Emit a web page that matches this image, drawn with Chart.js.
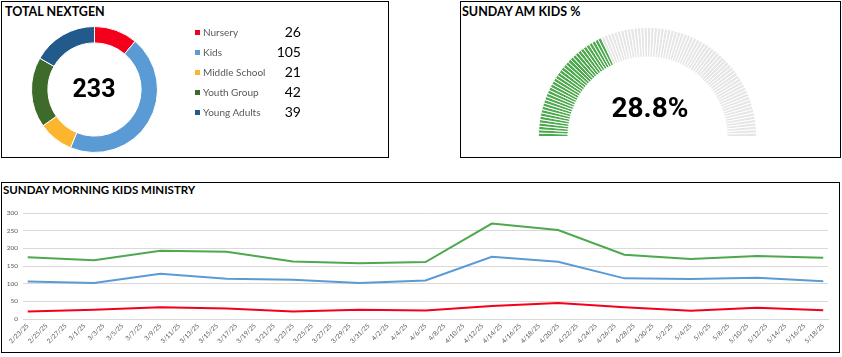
<!DOCTYPE html>
<html><head><meta charset="utf-8">
<script src="https://cdn.jsdelivr.net/npm/chart.js@4.4.1/dist/chart.umd.min.js"></script>
<style>
html,body{margin:0;padding:0;background:#fff;width:842px;height:357px;overflow:hidden;font-family:Lato,'Liberation Sans',sans-serif;}
.panel{position:absolute;box-sizing:border-box;border:1px solid #000;}
.t{position:absolute;white-space:nowrap;line-height:1;}
.title{font-weight:700;color:#000;}
.big{font-family:Roboto,'Liberation Sans',sans-serif;font-weight:700;color:#000;}
canvas{position:absolute;}
.sw{position:absolute;width:5px;height:5px;}
</style></head><body>
<div class="panel" style="left:1px;top:1px;width:388px;height:157px"></div>
<div class="panel" style="left:460px;top:1px;width:381px;height:157px"></div>
<div class="panel" style="left:1px;top:182px;width:839px;height:171px"></div>
<div class="t title" style="left:5px;top:6px;font-size:12.5px">TOTAL NEXTGEN</div>
<div class="t title" style="left:462px;top:6px;font-size:12.5px">SUNDAY AM KIDS %</div>
<div class="t title" style="left:3px;top:184px;font-size:11.5px">SUNDAY MORNING KIDS MINISTRY</div>
<canvas id="donut" width="127" height="127" style="left:31px;top:26px"></canvas>
<div id="donutCenter" class="t big" style="left:94px;top:88px;transform:translate(-50%,-50%);font-size:25px"></div>
<div id="legend"></div>
<canvas id="gauge" width="219" height="110" style="left:538px;top:27px"></canvas>
<div id="gaugeCenter" class="t big" style="left:650px;top:108px;transform:translate(-50%,-50%);font-size:28px"></div>
<canvas id="line" width="842" height="152" style="left:0px;top:200px"></canvas>
<script>
// ---- Data ----
const categories = ['Nursery', 'Kids', 'Middle School', 'Youth Group', 'Young Adults'];
const categoryTotals = [26, 105, 21, 42, 39];
const categoryColors = ['#f5001c', '#5b9bd5', '#fbb52e', '#3e6b2b', '#235a8c'];

const gaugeValue = 28.8;     // percent shown
const gaugeMax = 80;         // full scale of the gauge
const gaugeSegments = 100;

const weekDates = ['2/23/25','3/2/25','3/9/25','3/16/25','3/23/25','3/30/25','4/6/25','4/13/25','4/20/25','4/27/25','5/4/25','5/11/25','5/18/25'];
const seriesTotal   = [175, 166, 193, 190, 163, 158, 161, 270, 252, 182, 170, 178, 173];
const seriesKids    = [106, 102, 128, 114, 111, 102, 109, 176, 162, 115, 113, 117, 107];
const seriesNursery = [21, 26, 33, 30, 21, 26, 24, 37, 45, 33, 23, 32, 25];
const xTickLabels = ['2/23/25','2/25/25','2/27/25','3/1/25','3/3/25','3/5/25','3/7/25','3/9/25','3/11/25','3/13/25','3/15/25','3/17/25','3/19/25','3/21/25','3/23/25','3/25/25','3/27/25','3/29/25','3/31/25','4/2/25','4/4/25','4/6/25','4/8/25','4/10/25','4/12/25','4/14/25','4/16/25','4/18/25','4/20/25','4/22/25','4/24/25','4/26/25','4/28/25','4/30/25','5/2/25','5/4/25','5/6/25','5/8/25','5/10/25','5/12/25','5/14/25','5/16/25','5/18/25'];
const yTicks = [0, 50, 100, 150, 200, 250, 300];

// ---- Helpers ----
function dayNum(s){ const [m,d,y] = s.split('/').map(Number); return Date.UTC(2000+y, m-1, d)/86400000; }
const day0 = dayNum(xTickLabels[0]);
const toOffset = s => dayNum(s) - day0;
const tickMap = {}; xTickLabels.forEach(l => tickMap[toOffset(l)] = l);
const lastOffset = toOffset(xTickLabels[xTickLabels.length-1]);

// ---- Donut ----
new Chart(document.getElementById('donut'), {
  type: 'doughnut',
  data: { labels: categories, datasets: [{ data: categoryTotals, backgroundColor: categoryColors, borderColor: '#fff', borderWidth: 1 }] },
  options: { responsive: false, animation: false, cutout: '74%', plugins: { legend: { display: false }, tooltip: { enabled: false } } }
});
document.getElementById('donutCenter').textContent = categoryTotals.reduce((a,b)=>a+b,0);
const leg = document.getElementById('legend');
categories.forEach((c,i) => {
  const y = 32 + i*20;
  leg.insertAdjacentHTML('beforeend',
    `<div class="sw" style="left:195px;top:${y-2.5}px;background:${categoryColors[i]}"></div>` +
    `<div class="t" style="left:203px;top:${y}px;transform:translateY(-50%);font-size:10px;color:#595959">${c}</div>` +
    `<div class="t" style="right:${842-301}px;top:${y}px;transform:translateY(-50%);font-size:14px;color:#000">${categoryTotals[i]}</div>`);
});

// ---- Gauge ----
const filled = Math.round(gaugeValue / gaugeMax * gaugeSegments);
new Chart(document.getElementById('gauge'), {
  type: 'doughnut',
  data: { datasets: [{ data: new Array(gaugeSegments).fill(1),
    backgroundColor: Array.from({length: gaugeSegments}, (_, i) => i < filled ? '#4ea84e' : '#e6e6e6'),
    borderColor: '#fff', borderWidth: 1 }] },
  options: { responsive: false, animation: false, rotation: -90, circumference: 180, cutout: '73%',
    plugins: { legend: { display: false }, tooltip: { enabled: false } } }
});
document.getElementById('gaugeCenter').textContent = gaugeValue.toFixed(1) + '%';

// ---- Line ----
const mk = (vals) => weekDates.map((d,i) => ({ x: toOffset(d), y: vals[i] }));
new Chart(document.getElementById('line'), {
  type: 'line',
  data: { datasets: [
    { label: 'Total', data: mk(seriesTotal), borderColor: '#4ea84e', borderWidth: 2, pointRadius: 0, tension: 0 },
    { label: 'Kids', data: mk(seriesKids), borderColor: '#5b9bd5', borderWidth: 2, pointRadius: 0, tension: 0 },
    { label: 'Nursery', data: mk(seriesNursery), borderColor: '#f5001c', borderWidth: 2, pointRadius: 0, tension: 0 }
  ] },
  options: {
    responsive: false, animation: false,
    layout: { padding: { top: 13, right: 14, left: 0, bottom: 0 } },
    plugins: { legend: { display: false }, tooltip: { enabled: false } },
    scales: {
      x: { type: 'linear', min: -0.5, max: lastOffset + 0.5,
        afterBuildTicks: s => { s.ticks = xTickLabels.map(l => ({ value: toOffset(l) })); },
        afterFit: s => { s.height = 33; },
        grid: { display: false, drawTicks: false },
        border: { display: true, color: '#d9d9d9' },
        ticks: { autoSkip: false, minRotation: 45, maxRotation: 45, padding: 3, color: '#595959',
          font: { size: 6.5, family: 'Lato' }, callback: v => tickMap[v] ?? '' } },
      y: { min: yTicks[0], max: yTicks[yTicks.length-1],
        afterBuildTicks: s => { s.ticks = yTicks.map(v => ({ value: v })); },
        afterFit: s => { s.width = 23; },
        grid: { color: '#d9d9d9', drawTicks: false },
        border: { display: false },
        ticks: { padding: 5, color: '#595959', font: { size: 6.5, family: 'Lato' } } }
    }
  }
});
</script>
</body></html>
